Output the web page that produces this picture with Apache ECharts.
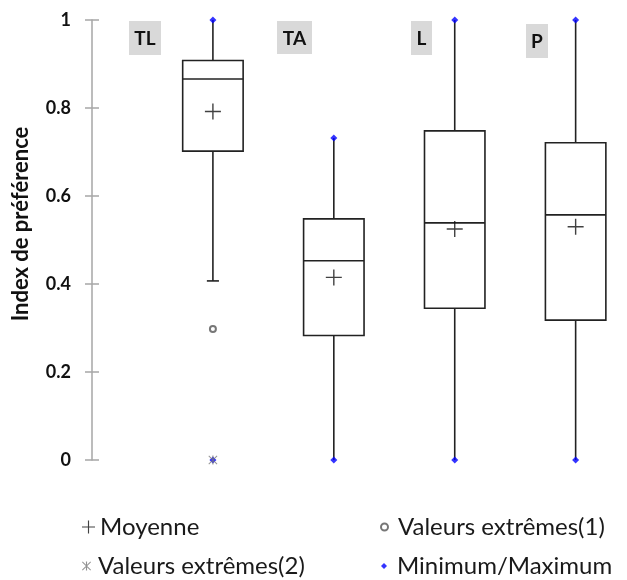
<!DOCTYPE html>
<html>
<head>
<meta charset="utf-8">
<script src="https://cdn.jsdelivr.net/npm/echarts@6/dist/echarts.min.js"></script>
<style>html,body{margin:0;padding:0;background:#fff}#c{width:627px;height:580px}</style>
</head>
<body>
<div id="c"></div>
<script>
const categories = ['TL', 'TA', 'L', 'P'];
const minVals    = [0, 0, 0, 0];
const maxVals    = [1, 0.732, 1, 1];
const whiskerLow = [0.407, 0, 0, 0];
const whiskerHigh= [1, 0.732, 1, 1];
const q1Vals     = [0.702, 0.283, 0.345, 0.318];
const medianVals = [0.866, 0.453, 0.539, 0.557];
const q3Vals     = [0.908, 0.548, 0.748, 0.721];
const meanVals   = [0.792, 0.415, 0.525, 0.530];
const outliers1  = [['TL', 0.298]];
const outliers2  = [['TL', 0]];
const yTicks     = [0, 0.2, 0.4, 0.6, 0.8, 1];
const legendNames = ['Moyenne', 'Valeurs extrêmes(1)', 'Valeurs extrêmes(2)', 'Minimum/Maximum'];

const FONT = 'Lato';
const pos = c => categories.indexOf(c) + 1;

const boxData = categories.map((c, i) => [pos(c), whiskerLow[i], q1Vals[i], medianVals[i], q3Vals[i], whiskerHigh[i], whiskerLow[i] > minVals[i] ? 1 : 0]);
const meanData = categories.map((c, i) => [pos(c), meanVals[i]]);
const minMaxData = [];
categories.forEach((c, i) => { minMaxData.push([pos(c), minVals[i]]); minMaxData.push([pos(c), maxVals[i]]); });
const out1Data = outliers1.map(o => [pos(o[0]), o[1]]);
const out2Data = outliers2.map(o => [pos(o[0]), o[1]]);

const PLUS = 'path://M0,7.3 L16,7.3 L16,8.7 L0,8.7 Z M7.3,0 L8.7,0 L8.7,16 L7.3,16 Z';
const STAR = 'path://M0.6,0 L8,7.4 L7.4,8 L0,0.6 Z M7.4,0 L8,0.6 L0.6,8 L0,7.4 Z M3.5,0 L4.5,0 L4.5,8 L3.5,8 Z';

const chart = echarts.init(document.getElementById('c'), null, {renderer: 'canvas'});

const yBase = {
  type: 'value', min: 0, max: 1, interval: 0.2,
  splitLine: {show: false}
};

const labelBoxes = [
  {x: 129, y: 21, w: 32, h: 34},
  {x: 277, y: 21, w: 35, h: 33},
  {x: 411, y: 21, w: 21, h: 34},
  {x: 526, y: 24, w: 22, h: 34}
];
const graphics = [];
categories.forEach((c, i) => {
  const b = labelBoxes[i];
  graphics.push({type: 'rect', left: b.x, top: b.y, shape: {width: b.w, height: b.h}, style: {fill: '#d9d9d9'}, z: 1});
  graphics.push({type: 'text', x: b.x + b.w / 2, y: b.y + b.h / 2 + 1, style: {text: c, fontFamily: FONT, fontWeight: 'bold', fontSize: 19, fill: '#111', textAlign: 'center', textVerticalAlign: 'middle'}, z: 2});
});

const legendCfg = [
  {left: 82, top: 515, w: 13, h: 13, pad: 0},
  {left: 380, top: 515, w: 7, h: 7, pad: 5},
  {left: 82, top: 554, w: 9, h: 9, pad: 2},
  {left: 381, top: 554, w: 6, h: 6, pad: 5}
];

chart.setOption({
  animation: false,
  grid: {left: 92, right: 3, top: 20, bottom: 120},
  xAxis: {type: 'value', min: 0, max: 4.4, show: false},
  yAxis: [
    Object.assign({}, yBase, {
      axisLine: {show: true, lineStyle: {color: '#a6a6a6', width: 1.5}},
      axisTick: {show: true, inside: false, length: 7, lineStyle: {color: '#a6a6a6', width: 1.5}},
      axisLabel: {show: true, margin: 21, fontFamily: FONT, fontWeight: 'bold', fontSize: 18, color: '#111',
        formatter: v => String(+v.toFixed(1))},
      name: 'Index de préférence', nameLocation: 'middle', nameRotate: 90, nameGap: 60,
      nameTextStyle: {fontFamily: FONT, fontSize: 22, fontWeight: 'bold', color: '#111', padding: [0, 0, 0, 32]}
    }),
    Object.assign({}, yBase, {
      position: 'left',
      axisLine: {show: false},
      axisTick: {show: true, inside: true, length: 7, lineStyle: {color: '#a6a6a6', width: 1.5}},
      axisLabel: {show: false}
    })
  ],
  legend: legendNames.map((n, i) => ({
    data: [n], left: legendCfg[i].left, top: legendCfg[i].top, orient: 'horizontal', padding: 0,
    itemWidth: legendCfg[i].w, itemHeight: legendCfg[i].h, itemGap: 6, selectedMode: false,
    textStyle: {fontFamily: FONT, fontSize: 24, color: '#1a1a1a', padding: [0, 0, 0, legendCfg[i].pad]}
  })),
  graphic: graphics,
  series: [
    {
      type: 'custom', name: 'box', data: boxData, z: 2,
      encode: {x: 0, y: [1, 2, 3, 4, 5]},
      renderItem: (params, api) => {
        const x = api.value(0);
        const pLow = api.coord([x, api.value(1)]);
        const pQ1 = api.coord([x, api.value(2)]);
        const pMed = api.coord([x, api.value(3)]);
        const pQ3 = api.coord([x, api.value(4)]);
        const pHigh = api.coord([x, api.value(5)]);
        const hw = api.size([0.5, 0])[0] / 2;
        const cw = api.size([0.1, 0])[0] / 2;
        const st = {stroke: '#222', lineWidth: 1.6, fill: null};
        const ch = [
          {type: 'line', shape: {x1: pHigh[0], y1: pHigh[1], x2: pQ3[0], y2: pQ3[1]}, style: st},
          {type: 'line', shape: {x1: pQ1[0], y1: pQ1[1], x2: pLow[0], y2: pLow[1]}, style: st},
          {type: 'rect', shape: {x: pQ3[0] - hw, y: pQ3[1], width: hw * 2, height: pQ1[1] - pQ3[1]}, style: {stroke: '#222', lineWidth: 1.6, fill: '#fff'}},
          {type: 'line', shape: {x1: pMed[0] - hw, y1: pMed[1], x2: pMed[0] + hw, y2: pMed[1]}, style: st}
        ];
        if (api.value(6)) {
          ch.push({type: 'line', shape: {x1: pLow[0] - cw, y1: pLow[1], x2: pLow[0] + cw, y2: pLow[1]}, style: st});
        }
        return {type: 'group', children: ch};
      }
    },
    {
      type: 'scatter', name: 'Moyenne', data: meanData, symbol: PLUS, symbolSize: 16, z: 5,
      itemStyle: {color: '#111'}
    },
    {
      type: 'scatter', name: 'Valeurs extrêmes(1)', data: out1Data, symbol: 'emptyCircle', symbolSize: 6, z: 5,
      itemStyle: {color: '#555', borderColor: '#555', borderWidth: 1.5}
    },
    {
      type: 'scatter', name: 'Minimum/Maximum', data: minMaxData, symbol: 'diamond', symbolSize: 7, z: 6,
      itemStyle: {color: '#0000ff'}
    },
    {
      type: 'scatter', name: 'Valeurs extrêmes(2)', data: out2Data, symbol: STAR, symbolSize: 9, z: 7,
      itemStyle: {color: '#777'}
    }
  ]
});
</script>
</body>
</html>
